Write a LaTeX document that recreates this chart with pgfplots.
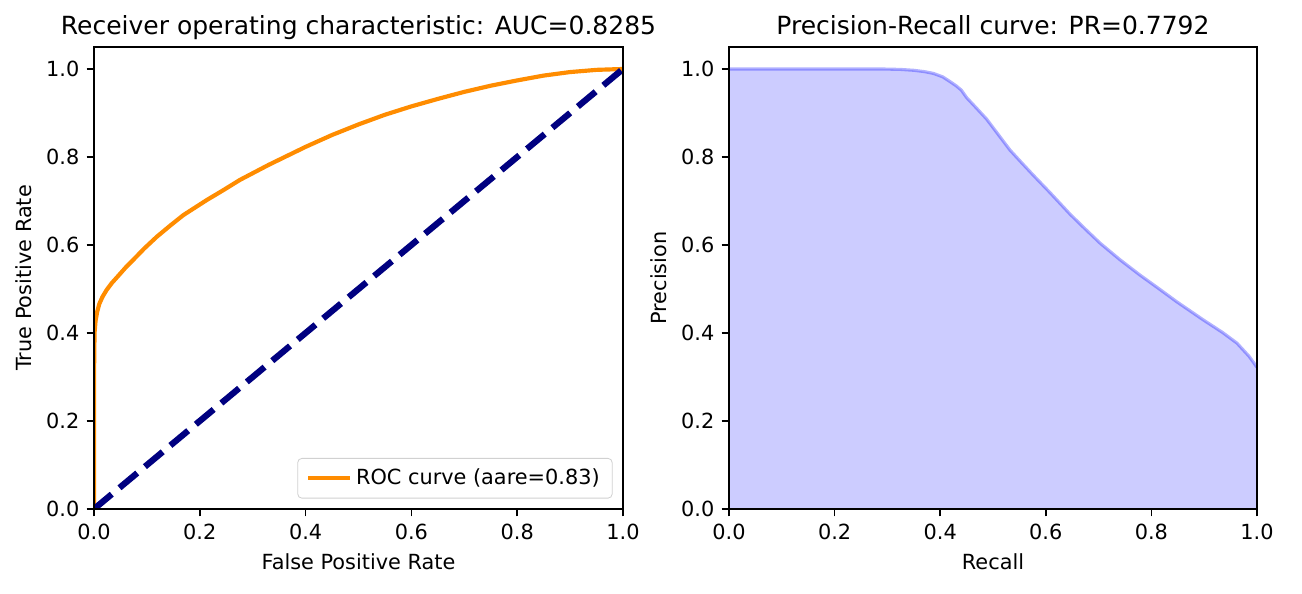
\documentclass[border=0pt]{standalone}
\usepackage{fontspec}
\setmainfont{DejaVu Sans}
\usepackage{pgfplots}
\pgfplotsset{compat=1.18}
\definecolor{darkorange}{HTML}{FF8C00}
\definecolor{mnavy}{HTML}{000080}
\pgfplotsset{
  mpl/.style={
    scale only axis, anchor=south west,
    height=221.76pt,
    xmin=0,xmax=1,ymin=0,ymax=1.05,
    xtick={0,0.2,0.4,0.6,0.8,1},
    ytick={0,0.2,0.4,0.6,0.8,1},
    /pgf/number format/.cd, fixed, fixed zerofill, precision=1, assume math mode=true,
    /pgfplots/.cd,
    tick align=outside, major tick length=3.5pt,
    xtick pos=left, ytick pos=left,
    every tick/.style={black, line width=0.8pt},
    axis line style={line width=0.8pt},
    tick label style={font=\fontsize{10}{12}\selectfont},
    label style={font=\fontsize{10}{12}\selectfont},
    title style={font=\fontsize{12}{14}\selectfont, at={(0.5,1)}, anchor=base, inner sep=0pt},
    axis on top,
  }
}
\pgfplotstableread{
x y
0 1
0.29 1.0
0.325 0.999
0.350 0.997
0.370 0.994
0.387 0.990
0.405 0.982
0.419 0.971
0.430 0.962
0.440 0.952
0.450 0.935
0.468 0.912
0.488 0.886
0.510 0.851
0.532 0.816
0.555 0.786
0.576 0.759
0.608 0.719
0.646 0.670
0.675 0.636
0.703 0.604
0.740 0.567
0.778 0.532
0.815 0.500
0.848 0.471
0.898 0.430
0.935 0.401
0.962 0.377
0.985 0.347
1.0 0.322
}\prdata
\begin{document}
\begin{tikzpicture}
\useasboundingbox (0,0) rectangle (624.96pt,285.12pt);
\begin{axis}[mpl,
  at={(45.12pt,40.8pt)}, width=253.92pt,
  title={Receiver operating characteristic: AUC=0.8285},
  xlabel={False Positive Rate}, ylabel={True Positive Rate},
  legend style={at={(1,0)}, xshift=-5pt, yshift=5pt, anchor=south east,
    draw=black!18, rounded corners=2pt, fill=white, fill opacity=0.8, text opacity=1,
    font=\fontsize{10}{12}\selectfont, inner xsep=4pt, inner ysep=3pt},
  legend cell align=left,
  legend image code/.code={\draw[#1] (0pt,0pt) -- (20pt,0pt);},
]
\addplot[darkorange, line width=2pt, line join=round] coordinates {
(0,0) (0,0.30) (0.001,0.400) (0.003,0.428) (0.006,0.448) (0.010,0.466)
(0.016,0.482) (0.024,0.498) (0.034,0.514) (0.046,0.530) (0.060,0.549)
(0.074,0.566) (0.095,0.592) (0.119,0.619) (0.144,0.644) (0.169,0.668)
(0.213,0.702) (0.245,0.725) (0.276,0.748) (0.33,0.782) (0.4,0.823) (0.45,0.850)
(0.5,0.874) (0.55,0.896) (0.6,0.915) (0.65,0.932) (0.7,0.948) (0.75,0.962)
(0.8,0.974) (0.85,0.985) (0.9,0.993) (0.95,0.998) (1,1)
};
\addlegendentry{ROC curve (aare=0.83)}
\addplot[mnavy, line width=3pt, dash pattern=on 11.1pt off 4.8pt, forget plot] coordinates {(0,0) (1,1)};
\end{axis}
\begin{axis}[mpl,
  at={(349.92pt,40.8pt)}, width=253.44pt,
  title={Precision-Recall curve: PR=0.7792},
  xlabel={Recall}, ylabel={Precision},
]
\addplot[draw=none, fill=blue, fill opacity=0.2] table {\prdata} \closedcycle;
\addplot[blue, opacity=0.3, line width=1.5pt, line join=round] table {\prdata};
\end{axis}
\end{tikzpicture}
\end{document}
